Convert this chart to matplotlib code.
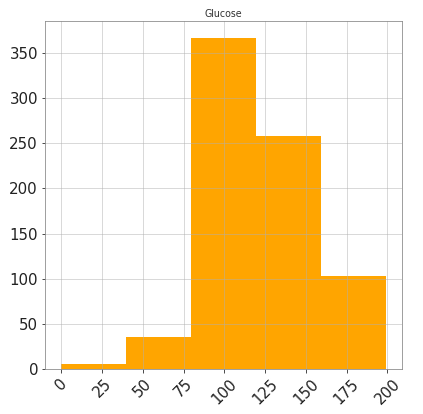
import matplotlib
matplotlib.use("Agg")
import matplotlib.pyplot as plt
import numpy as np

bin_edges = [0.0, 39.8, 79.6, 119.4, 159.2, 199.0]
counts = [5, 35, 367, 258, 103]
title = "Glucose"

fig = plt.figure(figsize=(423/72, 414/72), dpi=72)
ax = fig.add_axes([45/423, 1-369/414, 357/423, 348/414])
centers = [(a+b)/2 for a, b in zip(bin_edges[:-1], bin_edges[1:])]
ax.hist(centers, bins=bin_edges, weights=counts, color="orange", zorder=1)
ax.grid(True, color="#b0b0b0", alpha=0.6, linewidth=0.8, zorder=1.5)
ax.set_axisbelow('line')
ax.set_title(title, fontsize=9.5, color="#333333", pad=4)
ax.set_xticks([0, 25, 50, 75, 100, 125, 150, 175, 200])
ax.tick_params(axis="both", labelsize=15, colors="#222222")
for lab in ax.get_xticklabels():
    lab.set_rotation(45)
for s in ax.spines.values():
    s.set_color("#888888")
fig.savefig("out.png", dpi=72)
